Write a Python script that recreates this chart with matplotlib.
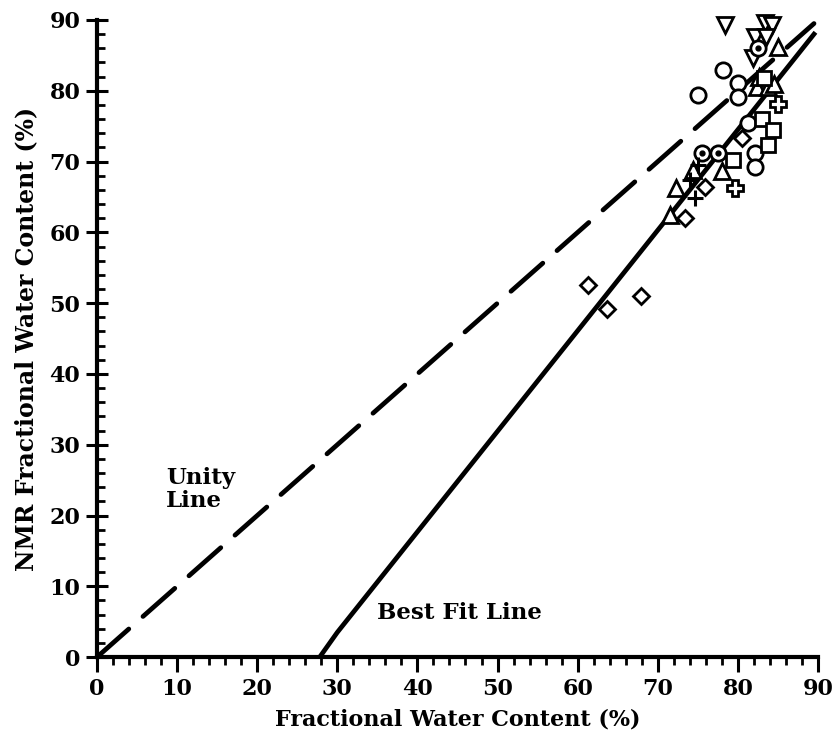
import matplotlib
matplotlib.use("Agg")
import matplotlib.pyplot as plt
from matplotlib.ticker import MultipleLocator

plt.rcParams['font.family'] = ['DejaVu Serif']
plt.rcParams['font.weight'] = 'bold'

# ---- data ----
unity_x = [0, 89.5]
unity_y = [0, 89.5]
fit_x = [27.8, 30.0, 89.5]
fit_y = [0.0, 3.5, 88.0]

tri_down_x = [78.4, 83.4, 84.3, 82.1, 83.5, 81.9]
tri_down_y = [89.3, 89.6, 89.3, 87.6, 87.6, 84.6]

tri_up_x = [85.0, 82.4, 83.8, 82.6, 78.0, 74.4, 72.3, 71.5, 84.5]
tri_up_y = [86.2, 80.5, 80.5, 81.9, 68.7, 68.8, 66.2, 62.4, 81.0]

dot_circ_x = [82.5, 75.5, 77.5]
dot_circ_y = [86.0, 71.2, 71.2]

circ_x = [78.1, 75.0, 80.0, 80.0, 81.3, 82.1, 82.1]
circ_y = [83.0, 79.4, 81.1, 79.1, 75.4, 71.2, 69.3]

sq_x = [83.3, 83.0, 84.4, 83.8, 79.4]
sq_y = [81.8, 76.0, 74.5, 72.4, 70.2]

dia_x = [61.3, 63.7, 67.9, 73.4, 75.9, 80.5]
dia_y = [52.6, 49.2, 51.0, 62.0, 66.4, 73.3]

plus_x = [74.6, 74.0, 75.0]
plus_y = [64.8, 67.4, 69.5]

cross_x = [79.6, 85.0]
cross_y = [66.3, 78.2]

fig = plt.figure(figsize=(8.33, 7.40), dpi=100)
ax = fig.add_axes([0.1164, 0.112, 0.8656, 0.861])

ax.plot(unity_x, unity_y, color='black', lw=3.4, dashes=(9, 4), solid_capstyle='round',
        dash_capstyle='round', zorder=2)
ax.plot(fit_x, fit_y, color='black', lw=3.4, zorder=2)

mk = dict(linestyle='none', markerfacecolor='white', markeredgecolor='black',
          markeredgewidth=2.0, zorder=3, clip_on=False)
ax.plot(tri_down_x, tri_down_y, marker='v', markersize=11, **mk)
ax.plot(tri_up_x, tri_up_y, marker='^', markersize=11, **mk)
ax.plot(circ_x, circ_y, marker='o', markersize=11, **mk)
ax.plot(dot_circ_x, dot_circ_y, marker='o', markersize=11, **mk)
ax.plot(dot_circ_x, dot_circ_y, linestyle='none', marker='o', markersize=3.5,
        color='black', zorder=4, clip_on=False)
ax.plot(sq_x, sq_y, marker='s', markersize=10, **mk)
ax.plot(dia_x, dia_y, marker='D', markersize=8, **mk)
ax.plot(cross_x, cross_y, marker='P', markersize=12, **mk)
ax.plot(plus_x, plus_y, linestyle='none', marker='+', markersize=12,
        markeredgewidth=2.2, color='black', zorder=3, clip_on=False)

ax.text(8.6, 26.8, 'Unity\nLine', fontsize=16.5, fontweight='bold', va='top', ha='left',
        linespacing=1.05)
ax.text(35.0, 6.3, 'Best Fit Line', fontsize=16.5, fontweight='bold', va='center', ha='left')

ax.set_xlim(0, 90)
ax.set_ylim(0, 90)
ax.xaxis.set_major_locator(MultipleLocator(10))
ax.xaxis.set_minor_locator(MultipleLocator(2))
ax.yaxis.set_major_locator(MultipleLocator(10))
ax.yaxis.set_minor_locator(MultipleLocator(2))

for s in ['top', 'right']:
    ax.spines[s].set_visible(False)
for s in ['left', 'bottom']:
    ax.spines[s].set_linewidth(3)

ax.tick_params(axis='x', which='major', direction='out', length=11, width=2.2,
               labelsize=16, pad=4)
ax.tick_params(axis='x', which='minor', direction='out', length=6, width=2)
ax.tick_params(axis='y', which='major', direction='inout', length=16, width=2.2,
               labelsize=16, pad=4)
ax.tick_params(axis='y', which='minor', direction='in', length=6, width=2)

for lab in ax.get_xticklabels() + ax.get_yticklabels():
    lab.set_fontweight('bold')

ax.set_xlabel('Fractional Water Content (%)', fontsize=16, fontweight='bold', labelpad=6)
ax.set_ylabel('NMR Fractional Water Content (%)', fontsize=17, fontweight='bold', labelpad=8)

fig.savefig('out.png', dpi=100)
